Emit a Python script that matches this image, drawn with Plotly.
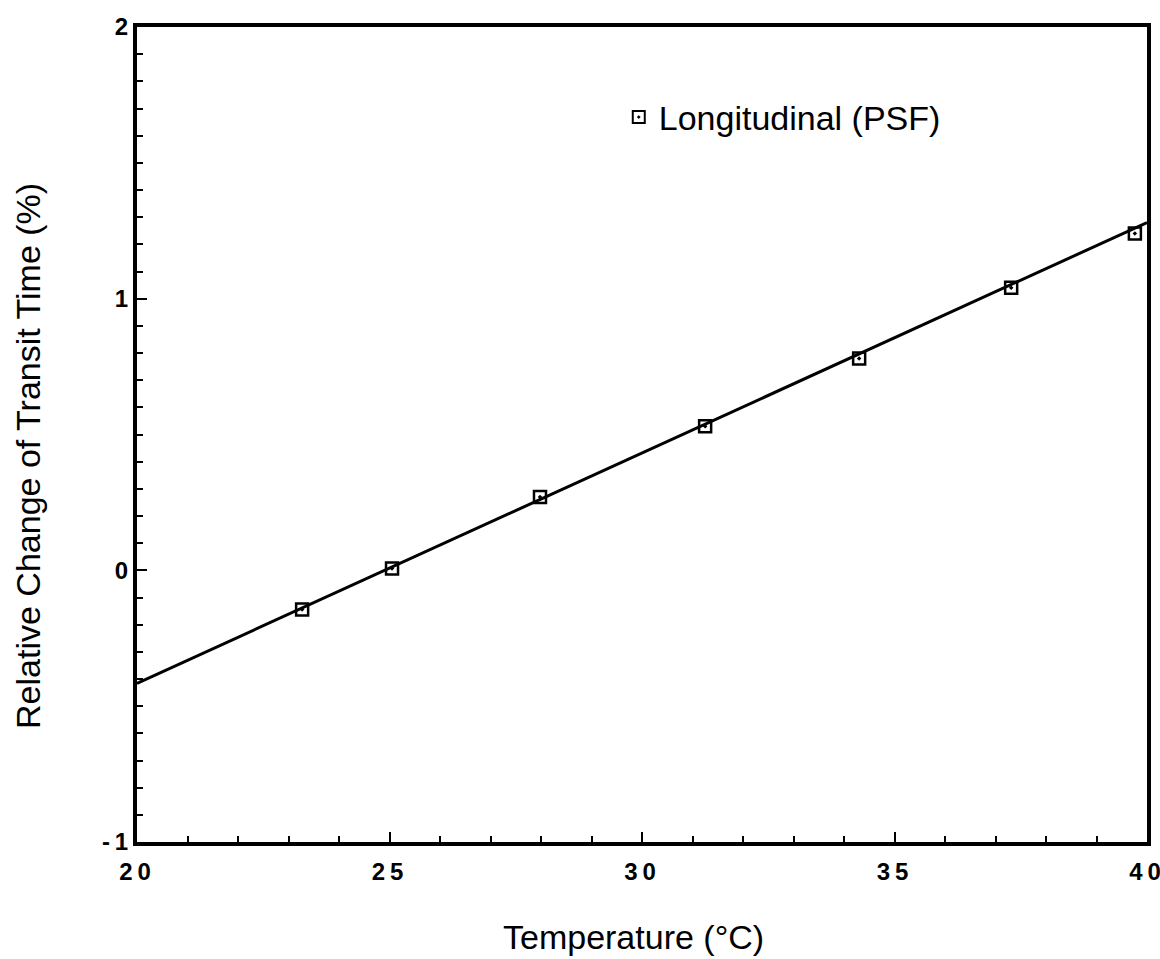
import plotly.graph_objects as go

temp = [23.27, 25.05, 27.98, 31.25, 34.30, 37.31, 39.76]
rel_change = [-0.144, 0.007, 0.27, 0.53, 0.78, 1.04, 1.24]
fit_x = [20, 40]
fit_y = [-0.416, 1.28]
x_ticks = [20, 25, 30, 35, 40]
x_ticktext = ["2\u20090", "2\u20095", "3\u20090", "3\u20095", "4\u20090"]
y_ticks = [-1, 0, 1, 2]
y_ticktext = ["-\u20091", "0", "1", "2"]

fig = go.Figure()
fig.add_trace(go.Scatter(x=fit_x, y=fit_y, mode="lines",
                         line=dict(color="black", width=3), showlegend=False))
fig.add_trace(go.Scatter(x=temp, y=rel_change, mode="markers", name="Longitudinal (PSF)",
                         marker=dict(symbol="square-open-dot", size=12, color="black",
                                     line=dict(width=2.5, color="black"))))

font = "Liberation Sans, Arial, sans-serif"
tickfont = dict(size=24, family=font, weight="bold", color="black")
fig.update_layout(
    width=1160, height=959,
    margin=dict(l=137, r=13, t=27, b=117),
    plot_bgcolor="white", paper_bgcolor="white",
    font=dict(family=font, color="black"),
    legend=dict(x=0.477, y=0.889, xanchor="left", yanchor="middle",
                font=dict(size=34, family=font), bgcolor="rgba(0,0,0,0)",
                itemsizing="constant"),
    xaxis=dict(range=[20, 40], tickvals=x_ticks, ticktext=x_ticktext,
               ticks="inside", ticklen=10, tickwidth=2, tickcolor="black",
               minor=dict(dtick=1, ticks="inside", ticklen=6, tickwidth=2, tickcolor="black"),
               showline=True, linewidth=4, linecolor="black", mirror=True,
               showgrid=False, zeroline=False, automargin=False,
               ticklabeloverflow="allow", ticklabelshift=-2,
               ticklabelstandoff=5, tickfont=tickfont),
    yaxis=dict(range=[-1, 2], tickvals=y_ticks, ticktext=y_ticktext,
               ticks="inside", ticklen=10, tickwidth=2, tickcolor="black",
               minor=dict(dtick=0.1, ticks="inside", ticklen=6, tickwidth=2, tickcolor="black"),
               showline=True, linewidth=4, linecolor="black", mirror=True,
               showgrid=False, zeroline=False, automargin=False,
               ticklabeloverflow="allow",
               ticklabelstandoff=0, tickfont=tickfont),
    annotations=[
        dict(text="Temperature (°C)", xref="paper", yref="paper", x=0.492, y=-0.1166,
             xanchor="center", yanchor="middle", showarrow=False,
             font=dict(size=34, family=font, color="black")),
        dict(text="Relative Change of Transit Time (%)", xref="paper", yref="paper",
             x=-0.108, y=0.4736, xanchor="center", yanchor="middle", textangle=-90,
             showarrow=False, font=dict(size=34, family=font, color="black")),
    ],
)
fig.write_html("out.html")
